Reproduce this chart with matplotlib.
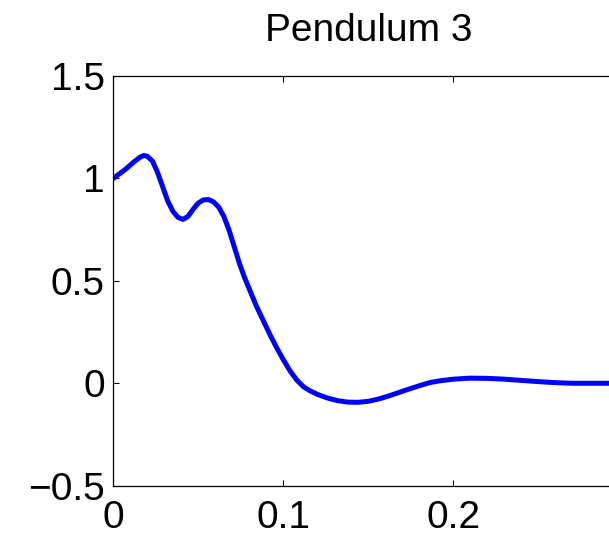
import matplotlib
matplotlib.use("Agg")
import matplotlib.pyplot as plt

# Pendulum 3 response
time_s = [
    0.000, 0.004, 0.008, 0.012, 0.016, 0.018, 0.020, 0.023, 0.026, 0.029,
    0.032, 0.035, 0.038, 0.041, 0.044, 0.047, 0.050, 0.053, 0.056, 0.059,
    0.062, 0.065, 0.068, 0.071, 0.074, 0.077, 0.080, 0.084, 0.088, 0.092,
    0.096, 0.100, 0.104, 0.108, 0.112, 0.116, 0.120, 0.126, 0.132, 0.138,
    0.144, 0.150, 0.156, 0.162, 0.168, 0.174, 0.180, 0.186, 0.192, 0.200,
    0.210, 0.220, 0.230, 0.240, 0.250, 0.260, 0.270, 0.280, 0.290, 0.300,
]
angle = [
    1.000, 1.025, 1.050, 1.080, 1.105, 1.112, 1.108, 1.085, 1.030, 0.960,
    0.890, 0.840, 0.810, 0.800, 0.815, 0.850, 0.880, 0.895, 0.897, 0.885,
    0.860, 0.815, 0.750, 0.670, 0.590, 0.520, 0.460, 0.380, 0.310, 0.240,
    0.175, 0.115, 0.060, 0.015, -0.018, -0.038, -0.054, -0.072, -0.085, -0.092,
    -0.093, -0.088, -0.077, -0.062, -0.045, -0.028, -0.012, 0.003, 0.012, 0.020,
    0.025, 0.024, 0.020, 0.014, 0.008, 0.003, 0.000, 0.000, 0.000, 0.000,
]
# only the ticks that show inside the cropped picture
x_ticks = [0, 0.1, 0.2]
x_tick_labels = ["0", "0.1", "0.2"]
y_ticks = [-0.5, 0, 0.5, 1, 1.5]
y_tick_labels = ["\u22120.5", "0", "0.5", "1", "1.5"]

plt.rcParams["font.family"] = ["Liberation Sans", "DejaVu Sans"]

fig = plt.figure(figsize=(6.09, 5.40), dpi=100)
# the axes run on past the right edge of the picture, as in the cropped reference
ax = fig.add_axes([113.3 / 609, 1 - 485.7 / 540, 510 / 609, 409.7 / 540])
ax.plot(time_s, angle, color="#0000ff", lw=3.6, solid_capstyle="round")

ax.set_xlim(0, 0.3)
ax.set_ylim(-0.5, 1.5)
ax.set_xticks(x_ticks)
ax.set_xticklabels(x_tick_labels)
ax.set_yticks(y_ticks)
ax.set_yticklabels(y_tick_labels)
ax.tick_params(direction="in", length=4, width=0.75, top=True, right=True,
               labelsize=28, colors="black")
ax.tick_params(axis="x", pad=10)
ax.tick_params(axis="y", pad=6)
for spine in ax.spines.values():
    spine.set_linewidth(0.9)
ax.set_title("Pendulum 3", fontsize=28, pad=25, x=255 / 510)

fig.savefig("out.png", dpi=100)
